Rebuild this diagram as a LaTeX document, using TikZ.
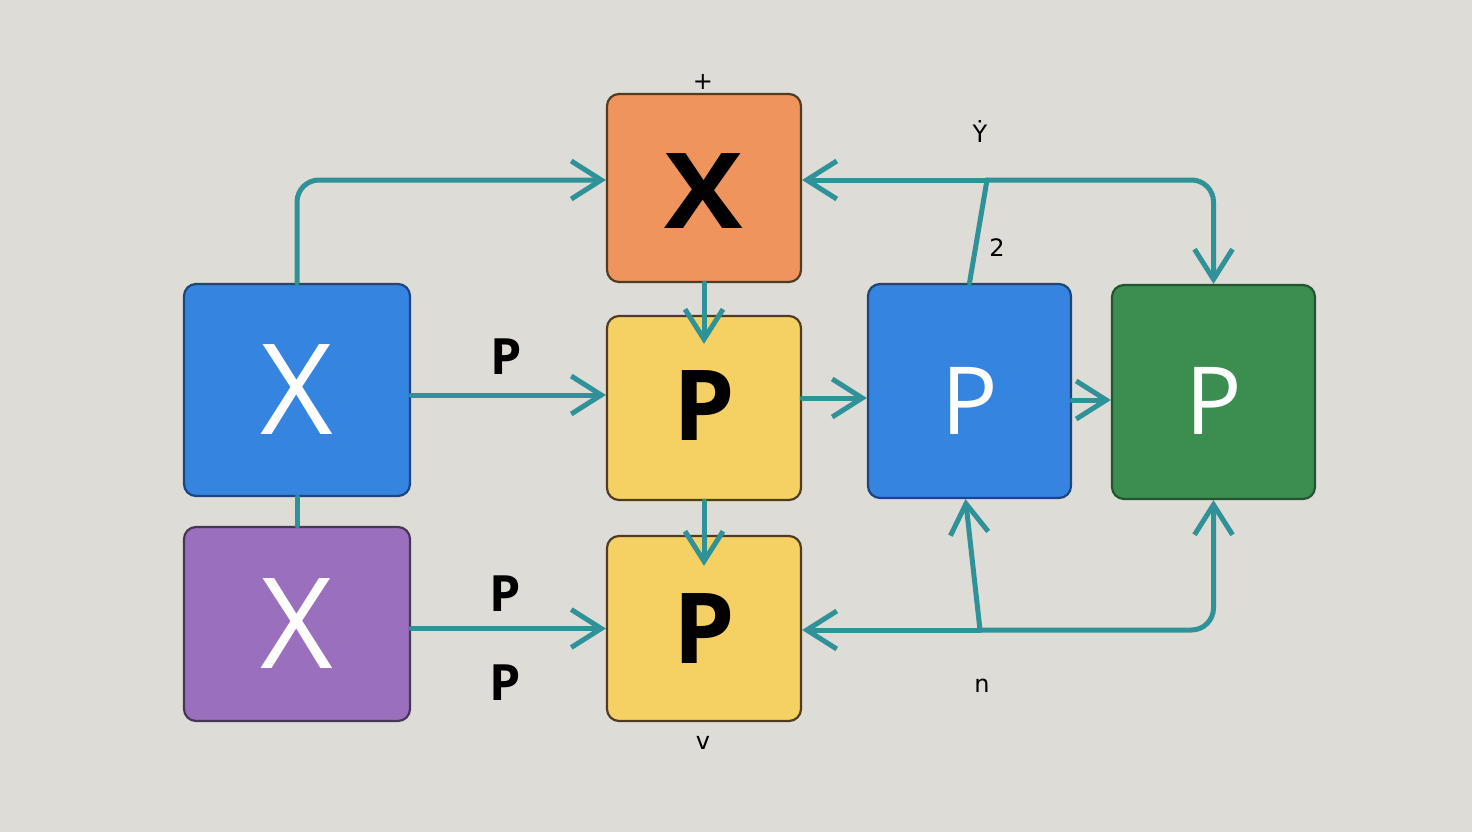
\documentclass[tikz,border=0pt]{standalone}
\usepackage{fontspec}
\setmainfont{Open Sans}
\newfontfamily\thinfont{DejaVu Sans}
\usetikzlibrary{arrows.meta}
\definecolor{bgc}{RGB}{222,220,214}
\definecolor{bluef}{RGB}{53,132,224}
\definecolor{blued}{RGB}{28,70,125}
\definecolor{orangef}{RGB}{238,148,92}
\definecolor{yellowf}{RGB}{245,208,98}
\definecolor{brownd}{RGB}{80,60,35}
\definecolor{greenf}{RGB}{60,142,80}
\definecolor{greend}{RGB}{35,85,48}
\definecolor{purplef}{RGB}{154,112,190}
\definecolor{purpled}{RGB}{70,55,85}
\definecolor{teal}{RGB}{46,146,152}
\begin{document}
\begin{tikzpicture}[x=1pt,y=-1pt,
  boxst/.style={draw, line width=2.2pt, rounded corners=12pt, inner sep=0pt},
  conn/.style={draw=teal, line width=5pt, line cap=round, -{Straight Barb[length=30pt,width=38pt]}},
  plain/.style={draw=teal, line width=5pt, line cap=round},
  lbl/.style={font=\fontsize{50}{50}\selectfont\bfseries, text=black},
  small/.style={font=\thinfont\fontsize{24}{24}\selectfont, text=black}]
\fill[bgc] (0,0) rectangle (1472,832);
\useasboundingbox (0,0) rectangle (1472,832);
% boxes
\node[boxst, fill=bluef, draw=blued, minimum width=226pt, minimum height=212pt,
  font=\fontsize{126}{126}\selectfont, text=white] (bx) at (297,390) {X};
\node[boxst, fill=purplef, draw=purpled, minimum width=226pt, minimum height=194pt,
  font=\fontsize{126}{126}\selectfont, text=white] (px) at (297,624) {X};
\node[boxst, fill=orangef, draw=brownd, minimum width=194pt, minimum height=188pt,
  font=\fontsize{105}{105}\selectfont\bfseries, text=black] (ox) at (704,188) {\raisebox{-3pt}[\height][0pt]{\scalebox{1.12}[1]{X}}};
\node[boxst, fill=yellowf, draw=brownd, minimum width=194pt, minimum height=184pt,
  font=\fontsize{98}{98}\selectfont\bfseries, text=black] (y1) at (704,408) {\raisebox{2pt}[\height][0pt]{P}};
\node[boxst, fill=yellowf, draw=brownd, minimum width=194pt, minimum height=185pt,
  font=\fontsize{98}{98}\selectfont\bfseries, text=black] (y2) at (704,628.5) {P};
\node[boxst, fill=bluef, draw=blued, minimum width=203pt, minimum height=214pt,
  font=\fontsize{94}{94}\selectfont, text=white] (bp) at (969.5,391) {\raisebox{-10pt}[\height][0pt]{P}};
\node[boxst, fill=greenf, draw=greend, minimum width=203pt, minimum height=214pt,
  font=\fontsize{94}{94}\selectfont, text=white] (gp) at (1213.5,392) {\raisebox{-9pt}[\height][0pt]{P}};
% coordinates
\coordinate (a1) at ([yshift=-5pt]bx.east);
\coordinate (a7) at ([yshift=10pt]y1.east);
\coordinate (a8) at ([yshift=-9pt]bp.east);
\coordinate (j1) at (987,180);
\coordinate (j2) at (980,630);
% connectors
\draw[conn, rounded corners=22pt] (bx.north) |- ([yshift=8pt]ox.west);
\draw[conn] (a1) -- (a1 -| y1.west);
\draw[conn] (px.east |- y2.west) -- (y2.west);
\draw[plain] (bx.south) -- (px.north);
\draw[conn] (ox.south) -- ([yshift=-29pt]y1.north);
\draw[conn] (y1.south) -- ([yshift=-31pt]y2.north);
\draw[conn] (a7) -- (a7 -| bp.west);
\draw[conn] (a8) -- (a8 -| gp.west);
\draw[plain] (bp.north) -- (j1);
\draw[conn] (j1) -- (j1 -| ox.east);
\draw[conn, rounded corners=22pt] (j1) -| (gp.north);
\draw[conn] (j2) -- (j2 -| y2.east);
\draw[conn] (j2) -- ([xshift=-4pt]bp.south);
\draw[conn, rounded corners=22pt] (j2) -| (gp.south);
% labels
\node[lbl] (l1) at (506,357) {P};
\node[lbl] (l2) at (505,594) {P};
\node[lbl] (l3) at (505,683) {P};
\node[small] (t1) at (703,82) {+};
\node[small] (t2) at (980,132) {Ẏ};
\node[small] (t3) at (997,248) {2};
\node[small] (t4) at (982,686) {n};
\node[small] (t5) at (703,743) {v};
\end{tikzpicture}
\end{document}
